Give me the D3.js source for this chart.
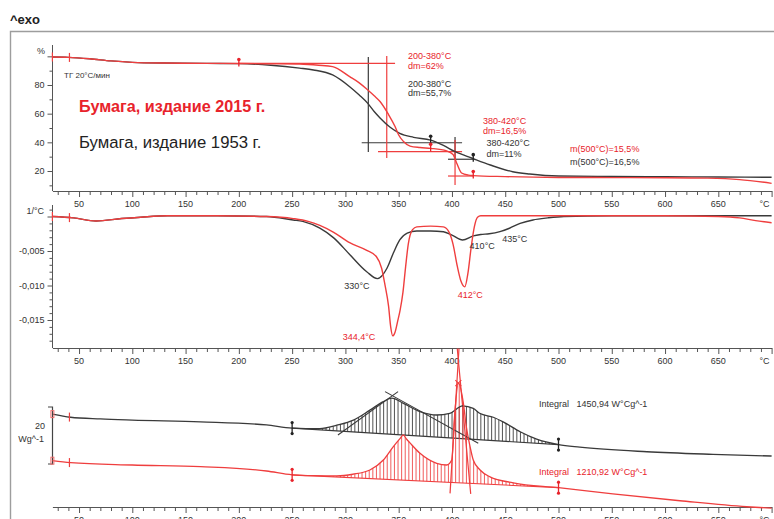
<!DOCTYPE html>
<html>
<head>
<meta charset="utf-8">
<script src="https://cdn.jsdelivr.net/npm/d3@7"></script>
<style>
  body { margin: 0; background: #fff; }
  svg { display: block; font-family: "Liberation Sans", Arial, sans-serif; }
</style>
</head>
<body>
<svg id="chart" width="774" height="519"></svg>
<script>
// ---------- data ----------
// temperature axis
const tempTicks = d3.range(30, 701, 10);
const tempLabels = [50, 100, 150, 200, 250, 300, 350, 400, 450, 500, 550, 600, 650];

// TG, mass %
const tgTickLabels = [20, 40, 60, 80];
const tgBlack = [[25,99.5],[40,99.3],[60,98.3],[80,96.8],[100,95.8],[130,95.3],[170,95.1],[200,94.9],[230,93.8],[257,91.8],[270,90.5],[288,87],[304,78.8],[313,73],[321,67.2],[327,61.5],[332.5,57],[342,50.5],[351,46.3],[364,43.5],[380,41.5],[392,37.8],[403,33.5],[419,28.9],[436,24.2],[457,19.5],[473,17.9],[500,16.5],[550,16.2],[600,16.0],[650,15.8],[700,15.6]];
const tgRed = [[25,99.5],[40,99.3],[60,98.3],[80,96.8],[100,95.8],[130,95.3],[170,95.1],[200,95],[230,94.8],[257,94.6],[275,93.8],[288,92.8],[304,85.8],[313,81.5],[321,76.5],[327,72.5],[332.5,68.5],[340,60],[346.6,51],[350,45.1],[354.5,40.6],[360.7,37.4],[370,36.4],[380,35.8],[395,34],[401,31.5],[404.5,25.4],[409,18.6],[415.5,17.1],[420,16.8],[450,16.1],[500,15.5],[550,15.4],[600,15.3],[640,15],[670,14],[700,11.4]];
// step evaluation lines [T, %]
const tgStepsBlack = [[[321.5,99.5],[321.5,33.3]], [[315.3,39.7],[409.5,39.7]], [[402.9,43.7],[402.9,27.7]], [[396.3,28.2],[419.8,28.2]]];
const tgStepsRed = [[[199.2,95.1],[346.6,95.1]], [[338.8,100.2],[338.8,29]], [[330.6,33.5],[409.5,33.5]], [[402.9,41.6],[402.9,10.2]], [[396.3,16.5],[419.8,16.5]]];
const tgLimitsBlack = [380, 420];
const tgLimitsRed = [200, 380, 420];
const startMarks = [25, 41];

// DTG, 1/°C
const dtgTickLabels = [-0.005, -0.010, -0.015];
const dtgBlack = [[25,0],[45,-0.0002],[66,-0.00065],[90,-0.0003],[108,-0.0001],[133,0.0001],[180,0.0001],[226,0],[251,-0.0005],[260,-0.0007],[276,-0.0017],[289,-0.0031],[304,-0.0055],[320,-0.0080],[330,-0.0090],[339,-0.0075],[345,-0.0053],[351,-0.0034],[358,-0.0024],[367,-0.0021],[380,-0.0021],[392,-0.0022],[400,-0.0027],[410,-0.0034],[420,-0.0028],[427,-0.0026],[435,-0.0025],[445,-0.0022],[454,-0.0017],[464,-0.0010],[476,-0.0005],[490,-0.0002],[505,0],[550,0.0001],[600,0.0001],[700,0.0001]];
const dtgRed = [[25,0],[45,-0.0002],[66,-0.00065],[90,-0.0003],[108,-0.0001],[133,0.0001],[180,0.0001],[226,0],[251,-0.0003],[265,-0.0007],[276,-0.0013],[289,-0.0023],[304,-0.0038],[320,-0.0049],[329,-0.0058],[334,-0.0075],[337,-0.0098],[340.5,-0.0130],[342.5,-0.0160],[344.4,-0.0173],[346.5,-0.0168],[349,-0.0152],[351.3,-0.0136],[354,-0.0110],[356.5,-0.0073],[359,-0.0040],[363,-0.0019],[367,-0.0015],[380,-0.0014],[392,-0.0015],[397,-0.0022],[401,-0.0040],[405,-0.0072],[408.5,-0.0094],[412,-0.0102],[415,-0.0082],[418,-0.0045],[421,-0.0015],[424,-0.0001],[427,0.0001],[500,0.0001],[600,0.0001],[650,0],[670,-0.0002],[685,-0.0006],[700,-0.0009]];

// DSC, W/g (curves offset)
const dscBlack = [[25,17.5],[42,16.4],[70,15.8],[100,15.4],[164,14.8],[226,13.7],[250,12.6],[276,12.4],[292,13.6],[307.5,15.4],[323,18.9],[335.6,21.9],[343.5,23.1],[354.4,21.3],[370,18.4],[385.7,17.2],[398,17.8],[410,20.4],[420,19.5],[426,17.8],[438.8,16.4],[448,14.8],[464,11.3],[479.5,8.7],[500,6.8],[520,5.9],[583,4.3],[645,3.4],[700,2.8]];
const dscRed = [[25,1.16],[42,0.46],[100,-0.35],[164,-0.95],[226,-2.46],[250,-3.8],[270,-4.1],[292,-4.2],[307,-3.6],[323,-2.1],[335.6,1.4],[345,6.1],[351,8.8],[354.4,10.2],[357,8.9],[360.6,7.4],[370,3.75],[385.7,0.25],[395,-0.35],[399.8,1.4],[402.2,15.4],[406,28.4],[410.7,21.4],[413.5,13],[417,6.1],[420,1.4],[426.4,-2.1],[435.7,-4.5],[457.6,-6.6],[500,-8.3],[551,-10.5],[614,-12.9],[676.6,-15],[700,-15.5]];
const integralLimits = [250, 500];
const dscTangentsBlack = [[[293,10.2],[349.4,25.4]], [[337.2,25.4],[424.7,7.3]]];
const dscTangentsRed = [[[398.2,-10.3],[406.6,40.5]], [[417.6,-10.5],[405,40.5]]];
const dscScaleBar = [0, 20];

// ---------- drawing ----------
const RED = "#e8232b", RED_C = "#ef3e3e", DARK = "#3a3a3a", AX = "#555", TXT = "#333";
const svg = d3.select("#chart");
const defs = svg.append("defs");

const x = d3.scaleLinear().domain([25, 700]).range([52.4, 771.6]);
const yTG = d3.scaleLinear().domain([20, 80]).range([171, 85]);
const yDTG = d3.scaleLinear().domain([-0.015, -0.005]).range([320, 251]);
const yDSC = d3.scaleLinear().domain([0, 20]).range([464, 407]);

const valueAt = (s, t) => {
  for (let i = 1; i < s.length; i++) {
    if (t <= s[i][0]) {
      const [t0, v0] = s[i - 1], [t1, v1] = s[i];
      return v0 + (v1 - v0) * (t - t0) / (t1 - t0);
    }
  }
  return s[s.length - 1][1];
};
const lineFor = ys => d3.line().x(d => x(d[0])).y(d => ys(d[1])).curve(d3.curveMonotoneX);
const segFor = ys => d3.line().x(d => x(d[0])).y(d => ys(d[1]));

// outer frame and header
svg.append("path").attr("d", "M10.5,519 V31.5 H774").attr("fill", "none")
  .attr("stroke", "#9d9d9d").attr("stroke-width", 1.4);
svg.append("text").attr("x", 10).attr("y", 24).attr("font-size", 13).attr("font-weight", "bold")
  .attr("fill", "#222").text("^exo");

// temperature axes
function xAxis(yPos) {
  const g = svg.append("g").attr("transform", `translate(0,${yPos})`);
  g.call(d3.axisBottom(x).tickValues(tempTicks).tickSize(4).tickSizeOuter(0).tickFormat(""));
  g.select(".domain").attr("stroke", AX);
  g.selectAll(".tick line").attr("stroke", AX).attr("y2", d => d % 50 === 0 ? 6 : 4);
  g.selectAll("text.lbl").data(tempLabels).join("text").attr("class", "lbl")
    .attr("x", d => x(d)).attr("y", 16).attr("text-anchor", "middle")
    .attr("font-size", 9).attr("fill", TXT).text(d => d);
  g.append("text").attr("x", x(700) - 2).attr("y", 16).attr("text-anchor", "end")
    .attr("font-size", 9).attr("fill", TXT).text("°C");
}
xAxis(191);
xAxis(348);
xAxis(507);

function yAxis(scale, ticks, majorTest, labels, fmt, y0, y1) {
  const g = svg.append("g").attr("transform", "translate(52.5,0)");
  g.call(d3.axisLeft(scale).tickValues(ticks).tickSize(3).tickPadding(5)
    .tickFormat(d => labels.some(l => Math.abs(l - d) < 1e-9) ? fmt(d) : ""));
  g.select(".domain").remove();
  g.selectAll(".tick line").attr("stroke", AX).attr("x2", d => majorTest(d) ? -5 : -3);
  g.selectAll(".tick text").attr("font-size", 9).attr("fill", TXT).attr("font-family", "Liberation Sans, Arial, sans-serif");
  g.append("line").attr("y1", y0).attr("y2", y1).attr("stroke", AX);
  return g;
}
yAxis(yTG, d3.range(10, 101, 10), d => d % 20 === 0, tgTickLabels, d => d, 45, 191);
yAxis(yDTG, d3.range(1, -19, -1).map(v => v / 1000), d => Math.abs(Math.round(d * 1000)) % 5 === 0,
  dtgTickLabels, d => d.toFixed(3).replace(".", ","), 205, 348);

svg.append("text").attr("x", 45).attr("y", 54).attr("text-anchor", "end").attr("font-size", 9).attr("fill", TXT).text("%");
svg.append("text").attr("x", 44).attr("y", 214).attr("text-anchor", "end").attr("font-size", 9).attr("fill", TXT).text("1/°C");

// DSC scale bar
svg.append("path")
  .attr("d", `M48,${yDSC(dscScaleBar[1])} H52.5 V${yDSC(dscScaleBar[0])} H48`)
  .attr("fill", "none").attr("stroke", "#444").attr("stroke-width", 1.2);
svg.append("text").attr("x", 45).attr("y", 428.5).attr("text-anchor", "end").attr("font-size", 9).attr("fill", TXT).text(dscScaleBar[1]);
svg.append("text").attr("x", 44).attr("y", 442).attr("text-anchor", "end").attr("font-size", 9).attr("fill", TXT).text("Wg^-1");

// ---------- markers ----------
function tickMark(t, ys, series, color, h) {
  const cy = ys(valueAt(series, t));
  svg.append("line").attr("x1", x(t)).attr("x2", x(t)).attr("y1", cy - h).attr("y2", cy + h)
    .attr("stroke", color).attr("stroke-width", 1.2);
}
function dotMark(t, ys, series, color) {
  const cy = ys(valueAt(series, t));
  svg.append("line").attr("x1", x(t)).attr("x2", x(t)).attr("y1", cy - 4).attr("y2", cy + 3)
    .attr("stroke", color).attr("stroke-width", 1.3);
  svg.append("circle").attr("cx", x(t)).attr("cy", cy - 4).attr("r", 1.8).attr("fill", color);
}
function limitMark(t, ys, series, color) {
  const cy = ys(valueAt(series, t));
  svg.append("line").attr("x1", x(t)).attr("x2", x(t)).attr("y1", cy - 6).attr("y2", cy + 6)
    .attr("stroke", color).attr("stroke-width", 1.3);
  [cy - 5.5, cy + 5.5].forEach(yy => svg.append("circle").attr("cx", x(t)).attr("cy", yy).attr("r", 1.6).attr("fill", color));
}

// ---------- TG panel ----------
const gTG = svg.append("g");
tgStepsBlack.forEach(s => gTG.append("path").attr("d", segFor(yTG)(s)).attr("stroke", DARK).attr("stroke-width", 1.2).attr("fill", "none"));
tgStepsRed.forEach(s => gTG.append("path").attr("d", segFor(yTG)(s)).attr("stroke", RED_C).attr("stroke-width", 1.2).attr("fill", "none"));
gTG.append("path").attr("d", lineFor(yTG)(tgBlack)).attr("stroke", DARK).attr("stroke-width", 1.4).attr("fill", "none");
gTG.append("path").attr("d", lineFor(yTG)(tgRed)).attr("stroke", RED_C).attr("stroke-width", 1.4).attr("fill", "none");
startMarks.forEach(t => tickMark(t, yTG, tgRed, RED_C, 4.5));
tgLimitsBlack.forEach(t => dotMark(t, yTG, tgBlack, "#222"));
tgLimitsRed.forEach(t => dotMark(t, yTG, tgRed, RED));

const txt = (xx, yy, s, color, size, weight) => svg.append("text").attr("x", xx).attr("y", yy)
  .attr("font-size", size || 9).attr("fill", color).attr("font-weight", weight || "normal")
  .attr("xml:space", "preserve").style("white-space", "pre").text(s);

txt(64, 78, "ТГ 20°C/мин", TXT, 8);
txt(79, 112, "Бумага, издание 2015 г.", RED, 16.2, "bold");
txt(79, 148, "Бумага, издание 1953 г.", "#222", 16.7);
txt(408, 59, "200-380°C", RED);
txt(408, 69, "dm=62%", RED);
txt(408, 86.5, "200-380°C", TXT);
txt(408, 96, "dm=55,7%", TXT);
txt(483, 124, "380-420°C", RED);
txt(483, 134, "dm=16,5%", RED);
txt(486.5, 146, "380-420°C", TXT);
txt(486.5, 157, "dm=11%", TXT);
txt(570, 152, "m(500°C)=15,5%", RED);
txt(570, 165, "m(500°C)=16,5%", TXT);

// ---------- DTG panel ----------
svg.append("path").attr("d", lineFor(yDTG)(dtgBlack)).attr("stroke", DARK).attr("stroke-width", 1.4).attr("fill", "none");
svg.append("path").attr("d", lineFor(yDTG)(dtgRed)).attr("stroke", RED_C).attr("stroke-width", 1.4).attr("fill", "none");
startMarks.forEach(t => tickMark(t, yDTG, dtgRed, RED_C, 4.5));
txt(x(330) - 33, 289, "330°C", TXT);
txt(x(344.4) - 50, 340, "344,4°C", RED);
txt(x(410) + 7, 248.5, "410°C", TXT);
txt(x(435) + 13, 241.5, "435°C", TXT);
txt(x(412) - 7, 297.5, "412°C", RED);

// ---------- DSC panel ----------
function integral(series, color, hatchColor, id) {
  const [t0, t1] = integralLimits;
  const v0 = valueAt(series, t0), v1 = valueAt(series, t1);
  const base = t => v0 + (v1 - v0) * (t - t0) / (t1 - t0);
  const pts = series.filter(d => d[0] >= t0 && d[0] <= t1);
  const area = d3.area().x(d => x(d[0])).y0(d => yDSC(base(d[0]))).y1(d => yDSC(d[1])).curve(d3.curveMonotoneX);
  defs.append("clipPath").attr("id", id).append("path").attr("d", area(pts));
  const xs = d3.range(x(t0) + 1.5, x(t1), 3.6);
  svg.append("g").attr("clip-path", `url(#${id})`).selectAll("line").data(xs).join("line")
    .attr("x1", d => d).attr("x2", d => d).attr("y1", 340).attr("y2", 510)
    .attr("stroke", hatchColor).attr("stroke-width", 0.9);
  svg.append("path").attr("d", segFor(yDSC)([[t0, v0], [t1, v1]]))
    .attr("stroke", color).attr("stroke-width", 1.1).attr("fill", "none");
}
integral(dscBlack, DARK, "#3d3d3d", "hatchBlack");
integral(dscRed, RED_C, "#ee4a4a", "hatchRed");

dscTangentsBlack.forEach(s => svg.append("path").attr("d", segFor(yDSC)(s)).attr("stroke", DARK).attr("stroke-width", 1.1).attr("fill", "none"));
dscTangentsRed.forEach(s => svg.append("path").attr("d", segFor(yDSC)(s)).attr("stroke", RED_C).attr("stroke-width", 1.2).attr("fill", "none"));

svg.append("path").attr("d", lineFor(yDSC)(dscBlack)).attr("stroke", DARK).attr("stroke-width", 1.3).attr("fill", "none");
svg.append("path").attr("d", lineFor(yDSC)(dscRed)).attr("stroke", RED_C).attr("stroke-width", 1.3).attr("fill", "none");

// small cross on the sharp red peak
{
  const pk = dscRed.reduce((a, b) => b[1] > a[1] ? b : a);
  const px = x(pk[0]), py = yDSC(pk[1]);
  svg.append("path").attr("d", `M${px - 3},${py - 3}L${px + 3},${py + 3}M${px - 3},${py + 3}L${px + 3},${py - 3}`)
    .attr("stroke", RED_C).attr("stroke-width", 1.1);
}

// start-of-evaluation marks on the DSC curves
[[dscBlack], [dscRed]].forEach(([s]) => {
  const cy = yDSC(valueAt(s, 25));
  svg.append("rect").attr("x", x(25) - 1.5).attr("y", cy - 3.5).attr("width", 3).attr("height", 7)
    .attr("fill", "none").attr("stroke", "#f07070").attr("stroke-width", 1);
  tickMark(41, yDSC, s, RED_C, 4.5);
});
integralLimits.forEach(t => limitMark(t, yDSC, dscBlack, "#222"));
integralLimits.forEach(t => limitMark(t, yDSC, dscRed, RED));

txt(539, 406.5, "Integral   1450,94 W°Cg^-1", TXT);
txt(539, 475, "Integral   1210,92 W°Cg^-1", RED);
</script>
</body>
</html>
